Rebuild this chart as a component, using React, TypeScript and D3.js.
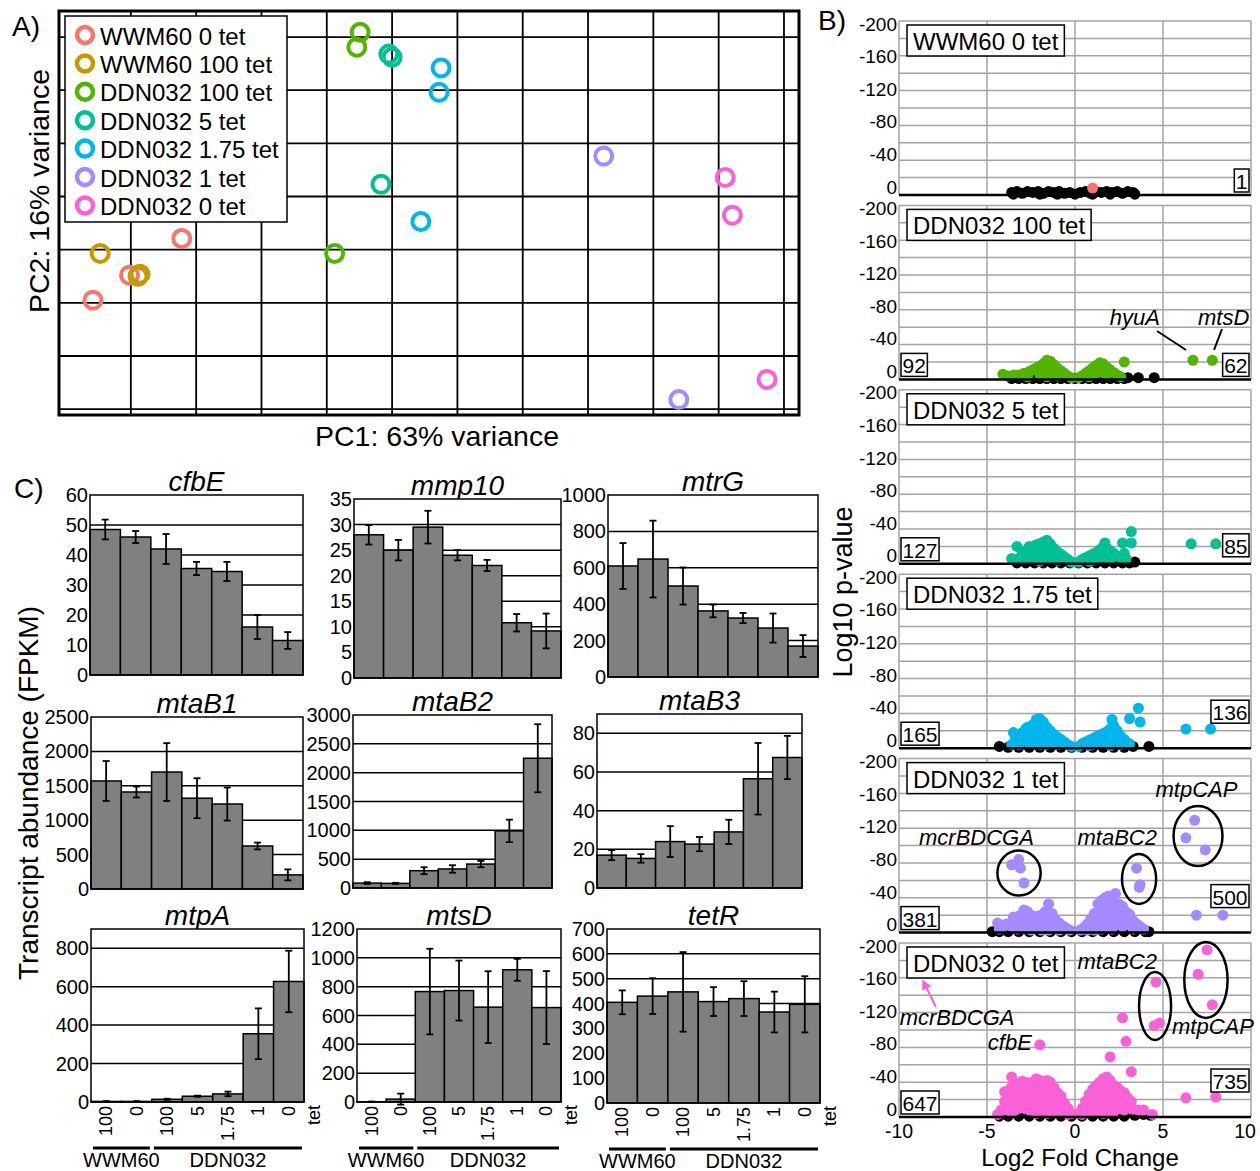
import React, { useLayoutEffect, useRef, useState } from 'react';
import * as d3 from 'd3';

const FONT = '"Liberation Sans", Arial, Helvetica, sans-serif';

/* ---------------- A) PCA ---------------- */
const sampleGroups = ['WWM60 0 tet', 'WWM60 100 tet', 'DDN032 100 tet', 'DDN032 5 tet', 'DDN032 1.75 tet', 'DDN032 1 tet', 'DDN032 0 tet'];
const groupColors = ['#F8766D', '#C49A00', '#53B400', '#00C094', '#00B6EB', '#A58AFF', '#FB61D7'];
// PC1 / PC2 scores of each replicate, one list per group
const pcaWWM60_0: [number, number][] = [[-25.8, -9.5], [-20.2, -4.8], [-12.2, 2.1]];
const pcaWWM60_100: [number, number][] = [[-24.7, -0.7], [-18.6, -4.6], [-18.9, -5.0]];
const pcaDDN_100: [number, number][] = [[15.1, 40.9], [14.6, 38.1], [11.2, -0.7]];
const pcaDDN_5: [number, number][] = [[19.5, 36.8], [20.0, 36.2], [18.3, 12.3]];
const pcaDDN_175: [number, number][] = [[27.5, 34.2], [27.2, 29.6], [24.4, 5.3]];
const pcaDDN_1: [number, number][] = [[52.4, 17.6], [63.9, -28.2]];
const pcaDDN_0: [number, number][] = [[71.0, 13.6], [72.1, 6.5], [77.4, -24.4]];
const pcaScores = [pcaWWM60_0, pcaWWM60_100, pcaDDN_100, pcaDDN_5, pcaDDN_175, pcaDDN_1, pcaDDN_0];
const pc1Grid = [-20, -10, 0, 10, 20, 30, 40, 50, 60, 70, 80];
const pc2Grid = [-30, -20, -10, 0, 10, 20, 30, 40];

/* ---------------- B) Volcano plots ---------------- */
const volcanoTitles = ['WWM60 0 tet', 'DDN032 100 tet', 'DDN032 5 tet', 'DDN032 1.75 tet', 'DDN032 1 tet', 'DDN032 0 tet'];
const volcanoColors = ['#F8766D', '#53B400', '#00C094', '#00B6EB', '#A58AFF', '#FB61D7'];
const downCounts = [null, 92, 127, 165, 381, 647];
const upCounts = [1, 62, 85, 136, 500, 735];
const lfcTicks = [-10, -5, 0, 5, 10];
const pTickLabels = [0, -40, -80, -120, -160, -200];
const pGrid = [-20, -40, -60, -80, -100, -120, -140, -160, -180, -200];

// [log2 fold change, log10 p-value]
const ns0: [number, number][] = [[-3.6, -3], [-3.3, -4], [-3.0, -2], [-2.7, -4], [-2.4, -3], [-2.1, -4], [-1.8, -2], [-1.5, -4], [-1.2, -3], [-0.9, -4], [-0.6, -2], [-0.3, -3], [0, -1], [0.3, -3], [0.6, -4], [0.9, -2], [1.2, -4], [1.5, -3], [1.8, -4], [2.1, -3], [2.4, -4], [2.7, -2], [3.0, -4], [3.3, -3], [3.4, -1], [-3.5, -1], [-2.0, -1], [-1.0, -1], [1.0, -1], [2.0, -1]];
const sig0: [number, number][] = [[1.0, -8]];

const ns1: [number, number][] = [[-3.6, -1], [-3.2, -1], [-2.8, -1], [-2.4, -1], [-2.0, -1], [-1.6, -1], [-1.2, -1], [-0.8, -1], [-0.4, -1], [0, -1], [0.4, -1], [0.8, -1], [1.2, -1], [1.6, -1], [2.0, -1], [2.4, -1], [2.8, -1], [3.0, -2], [3.6, -2], [4.5, -2]];
const sig1: [number, number][] = [[-4.1, -6], [-3.8, -4], [-3.5, -5], [-3.2, -5], [-2.9, -7], [-2.6, -9], [-2.7, -3], [-2.4, -11], [-2.2, -13], [-2.0, -15], [-2.0, -5], [-1.8, -18], [-1.8, -8], [-1.6, -22], [-1.6, -11], [-1.6, -3], [-1.4, -21], [-1.4, -10], [-1.2, -17], [-1.2, -7], [-1.0, -13], [-1.0, -4], [-0.8, -10], [-0.6, -7], [-0.4, -4], [-0.2, -2],
  [0.2, -2], [0.4, -4], [0.6, -7], [0.8, -10], [0.8, -3], [1.0, -13], [1.0, -5], [1.2, -16], [1.2, -7], [1.4, -19], [1.4, -9], [1.6, -18], [1.6, -8], [1.8, -14], [1.8, -5], [2.0, -11], [2.2, -8], [2.4, -5], [2.6, -3], [2.8, -20], [6.7, -22], [7.8, -22]];

const ns2: [number, number][] = [[-3.3, -1], [-2.8, -1], [-2.3, -1], [-1.8, -1], [-1.3, -1], [-0.8, -1], [-0.3, -1], [0.2, -1], [0.7, -1], [1.2, -1], [1.7, -1], [2.2, -1], [2.7, -1], [3.1, -1], [3.4, -2]];
const sig2: [number, number][] = [[-3.6, -6], [-3.3, -20], [-3.2, -6], [-3.0, -12], [-2.8, -15], [-2.8, -5], [-2.6, -20], [-2.6, -9], [-2.4, -18], [-2.4, -7], [-2.2, -22], [-2.2, -11], [-2.0, -23], [-2.0, -12], [-2.0, -3], [-1.8, -25], [-1.8, -14], [-1.6, -27], [-1.6, -16], [-1.6, -5], [-1.4, -23], [-1.4, -12], [-1.2, -18], [-1.2, -8], [-1.0, -14], [-1.0, -4], [-0.8, -11], [-0.6, -8], [-0.4, -5], [-0.2, -2],
  [0.2, -2], [0.4, -5], [0.6, -7], [0.8, -9], [0.8, -3], [1.0, -11], [1.0, -4], [1.2, -13], [1.2, -5], [1.4, -16], [1.4, -7], [1.6, -20], [1.6, -9], [1.7, -24], [1.8, -18], [1.8, -7], [2.0, -15], [2.0, -5], [2.2, -12], [2.4, -9], [2.6, -7], [2.7, -24], [2.8, -12], [2.9, -6], [3.2, -37], [3.2, -24], [6.6, -23], [8.0, -23]];

const ns3: [number, number][] = [[-4.3, -2], [-3.8, -1], [-3.2, -1], [-2.6, -1], [-2.0, -1], [-1.4, -1], [-0.8, -1], [-0.2, -1], [0.4, -1], [1.0, -1], [1.6, -1], [2.2, -1], [2.8, -1], [3.3, -2], [4.2, -2]];
const sig3: [number, number][] = [[-3.6, -4], [-3.5, -18], [-3.4, -9], [-3.2, -13], [-3.2, -4], [-3.0, -18], [-3.0, -8], [-2.8, -22], [-2.8, -12], [-2.7, -24], [-2.6, -16], [-2.6, -5], [-2.4, -27], [-2.4, -17], [-2.4, -7], [-2.2, -33], [-2.2, -22], [-2.2, -11], [-2.0, -34], [-2.0, -24], [-2.0, -13], [-2.0, -4], [-1.8, -30], [-1.8, -19], [-1.8, -9], [-1.6, -24], [-1.6, -14], [-1.6, -4], [-1.4, -20], [-1.4, -10], [-1.2, -16], [-1.2, -6], [-1.0, -13], [-1.0, -4], [-0.8, -10], [-0.6, -7], [-0.4, -4], [-0.2, -2],
  [0.2, -2], [0.4, -5], [0.6, -7], [0.8, -9], [0.8, -3], [1.0, -11], [1.0, -4], [1.2, -13], [1.2, -5], [1.4, -15], [1.4, -6], [1.6, -17], [1.6, -7], [1.8, -19], [1.8, -9], [2.0, -22], [2.0, -12], [2.0, -3], [2.1, -33], [2.2, -26], [2.2, -15], [2.4, -20], [2.4, -9], [2.6, -14], [2.6, -4], [2.8, -10], [3.0, -6], [3.1, -34], [3.6, -46], [3.7, -30], [3.1, -5], [6.3, -22], [7.7, -22]];

const ns4: [number, number][] = [[-4.7, -1], [-4.3, -1], [-3.8, -1], [-3.2, -1], [-2.6, -1], [-2.0, -1], [-1.4, -1], [-0.8, -1], [-0.2, -1], [0.4, -1], [1.0, -1], [1.6, -1], [2.2, -1], [2.8, -1], [3.4, -1], [4.0, -1], [4.2, -1]];
const sig4: [number, number][] = [[-4.4, -11], [-4.3, -4], [-4.1, -7], [-3.9, -10], [-3.7, -8], [-3.5, -18], [-3.5, -6], [-3.3, -14], [-3.3, -4], [-3.1, -20], [-3.1, -9], [-2.9, -26], [-2.9, -15], [-2.9, -5], [-2.7, -24], [-2.7, -12], [-2.5, -20], [-2.5, -10], [-2.5, -3], [-2.3, -18], [-2.3, -8], [-2.1, -19], [-2.1, -9], [-1.9, -20], [-1.9, -10], [-1.9, -3], [-1.7, -24], [-1.7, -13], [-1.5, -33], [-1.5, -21], [-1.5, -10], [-1.5, -3], [-1.3, -22], [-1.3, -12], [-1.1, -15], [-1.1, -6], [-0.9, -11], [-0.9, -3], [-0.7, -8], [-0.5, -5], [-0.3, -3],
  [0.3, -3], [0.5, -6], [0.7, -10], [0.7, -3], [0.9, -16], [0.9, -7], [1.1, -22], [1.1, -11], [1.1, -3], [1.3, -33], [1.3, -22], [1.3, -10], [1.5, -37], [1.5, -26], [1.5, -14], [1.5, -4], [1.7, -40], [1.7, -28], [1.7, -16], [1.7, -6], [1.9, -42], [1.9, -30], [1.9, -18], [1.9, -8], [2.1, -38], [2.1, -26], [2.1, -14], [2.1, -4], [2.3, -45], [2.3, -33], [2.3, -20], [2.3, -9], [2.5, -33], [2.5, -22], [2.5, -11], [2.7, -30], [2.7, -18], [2.7, -7], [2.9, -24], [2.9, -12], [3.1, -21], [3.1, -9], [3.3, -14], [3.3, -4], [3.5, -10], [3.7, -7], [3.9, -4],
  [-3.6, -78], [-3.2, -84], [-3.1, -74], [-2.9, -57], [3.5, -74], [3.7, -55], [3.65, -52], [6.8, -129], [6.3, -109], [7.4, -95], [6.9, -20], [8.4, -20]];

const ns5: [number, number][] = [[-4.3, -1], [-3.8, -1], [-3.2, -1], [-2.6, -1], [-2.0, -1], [-1.4, -1], [-0.8, -1], [-0.2, -1], [0.4, -1], [1.0, -1], [1.6, -1], [2.2, -1], [2.8, -1], [3.4, -2], [3.9, -3], [4.3, -2], [3.6, -6]];
const sig5: [number, number][] = [[-4.4, -3], [-4.2, -8], [-4.0, -29], [-4.0, -18], [-4.0, -8], [-3.8, -30], [-3.8, -20], [-3.8, -10], [-3.6, -46], [-3.6, -35], [-3.6, -25], [-3.6, -15], [-3.6, -5], [-3.4, -38], [-3.4, -28], [-3.4, -18], [-3.4, -8], [-3.2, -30], [-3.2, -20], [-3.2, -10], [-3.0, -41], [-3.0, -31], [-3.0, -21], [-3.0, -11],
  [-2.8, -40], [-2.8, -30], [-2.8, -20], [-2.8, -10], [-2.6, -38], [-2.6, -28], [-2.6, -18], [-2.6, -8], [-2.4, -40], [-2.4, -30], [-2.4, -20], [-2.4, -10], [-2.2, -44], [-2.2, -34], [-2.2, -24], [-2.2, -14], [-2.2, -4], [-2.0, -42], [-2.0, -32], [-2.0, -22], [-2.0, -12], [-1.8, -40], [-1.8, -30], [-1.8, -20], [-1.8, -10],
  [-1.6, -42], [-1.6, -32], [-1.6, -22], [-1.6, -12], [-1.6, -4], [-1.4, -40], [-1.4, -30], [-1.4, -20], [-1.4, -10], [-1.2, -34], [-1.2, -24], [-1.2, -14], [-1.2, -5], [-1.0, -28], [-1.0, -18], [-1.0, -8], [-0.8, -24], [-0.8, -14], [-0.8, -5], [-0.6, -16], [-0.6, -8], [-0.4, -10], [-0.4, -3], [-0.2, -4],
  [0.2, -4], [0.4, -10], [0.4, -3], [0.6, -18], [0.6, -8], [0.8, -26], [0.8, -15], [0.8, -5], [1.0, -32], [1.0, -22], [1.0, -12], [1.2, -36], [1.2, -26], [1.2, -16], [1.2, -6], [1.4, -40], [1.4, -30], [1.4, -20], [1.4, -10], [1.6, -44], [1.6, -34], [1.6, -24], [1.6, -14], [1.6, -4],
  [1.8, -46], [1.8, -36], [1.8, -26], [1.8, -16], [1.8, -6], [2.0, -42], [2.0, -32], [2.0, -22], [2.0, -12], [2.2, -36], [2.2, -26], [2.2, -16], [2.2, -6], [2.4, -34], [2.4, -24], [2.4, -14], [2.6, -30], [2.6, -20], [2.6, -10], [2.8, -28], [2.8, -18], [2.8, -8], [3.0, -22], [3.0, -12], [3.2, -18], [3.3, -9], [3.6, -8], [3.9, -8], [4.4, -3],
  [-2.0, -83], [2.0, -69], [2.7, -114], [2.9, -87], [3.2, -52], [4.6, -155], [4.5, -105], [4.8, -108], [7.5, -192], [7.0, -164], [7.8, -129], [6.3, -22], [8.0, -23]];

const volcanoNs = [ns0, ns1, ns2, ns3, ns4, ns5];
const volcanoSig = [sig0, sig1, sig2, sig3, sig4, sig5];

type Note =
  | { kind: 'text'; lfc: number; p: number; label: string; anchor?: string }
  | { kind: 'line'; from: [number, number]; to: [number, number] }
  | { kind: 'ellipse'; lfc: number; p: number; rl: number; rp: number }
  | { kind: 'arrow'; from: [number, number]; to: [number, number] };

const volcanoNotes: Note[][] = [
  [],
  [
    { kind: 'text', lfc: 3.4, p: -62.5, label: 'hyuA' },
    { kind: 'line', from: [4.66, -55.6], to: [6.31, -33.8] },
    { kind: 'text', lfc: 8.45, p: -62.5, label: 'mtsD' },
    { kind: 'line', from: [8.35, -57.9], to: [7.9, -33.8] },
  ],
  [],
  [],
  [
    { kind: 'text', lfc: -5.6, p: -100.7, label: 'mcrBDCGA' },
    { kind: 'text', lfc: 2.4, p: -100.7, label: 'mtaBC2' },
    { kind: 'text', lfc: 6.9, p: -156, label: 'mtpCAP' },
    { kind: 'ellipse', lfc: -3.18, p: -68.5, rl: 1.23, rp: 25.9 },
    { kind: 'ellipse', lfc: 3.64, p: -61.6, rl: 0.97, rp: 28.7 },
    { kind: 'ellipse', lfc: 6.99, p: -111, rl: 1.39, rp: 34.5 },
  ],
  [
    { kind: 'text', lfc: 2.4, p: -170, label: 'mtaBC2' },
    { kind: 'text', lfc: 7.84, p: -95.4, label: 'mtpCAP' },
    { kind: 'text', lfc: -6.7, p: -105.7, label: 'mcrBDCGA' },
    { kind: 'text', lfc: -2.45, p: -77, label: 'cfbE', anchor: 'end' },
    { kind: 'ellipse', lfc: 4.55, p: -127.6, rl: 0.91, rp: 39 },
    { kind: 'ellipse', lfc: 7.44, p: -157.5, rl: 1.23, rp: 43.7 },
    { kind: 'arrow', from: [-7.9, -126.4], to: [-8.62, -156] },
  ],
];

/* ---------------- C) Transcript abundance ---------------- */
const sampleTet = ['100', '0', '100', '5', '1.75', '1', '0'];
const sampleStrain = ['WWM60', 'WWM60', 'DDN032', 'DDN032', 'DDN032', 'DDN032', 'DDN032'];
const strains = ['WWM60', 'DDN032'];
const geneNames = ['cfbE', 'mmp10', 'mtrG', 'mtaB1', 'mtaB2', 'mtaB3', 'mtpA', 'mtsD', 'tetR'];
const cfbE = [48.5, 46, 42, 35.5, 34.5, 16, 11.5];
const cfbE_sd = [3.3, 2, 5, 2.2, 3.2, 4, 2.8];
const mmp10 = [28, 25, 29.5, 24, 22, 10.8, 9.2];
const mmp10_sd = [1.9, 2, 3.2, 1, 1.1, 1.7, 3.4];
const mtrG = [610, 648, 500, 363, 324, 269, 170];
const mtrG_sd = [126, 211, 102, 35, 28, 80, 60];
const mtaB1 = [1570, 1410, 1700, 1320, 1235, 625, 205];
const mtaB1_sd = [290, 80, 420, 290, 240, 50, 80];
const mtaB2 = [85, 80, 300, 330, 415, 990, 2250];
const mtaB2_sd = [15, 10, 60, 65, 55, 195, 590];
const mtaB3 = [17, 15.3, 24, 22.7, 29, 56.5, 67.5];
const mtaB3_sd = [2.6, 2.2, 8, 3.7, 6.3, 18.5, 11.2];
const mtpA = [3, 3, 14, 30, 42, 355, 627];
const mtpA_sd = [1, 1, 3, 3, 12, 132, 160];
const mtsD = [2, 20, 766, 773, 658, 917, 655];
const mtsD_sd = [1, 38, 297, 208, 249, 76, 253];
const tetR = [405, 430, 447, 408, 420, 366, 397];
const tetR_sd = [48, 72, 160, 58, 70, 82, 113];
const fpkmValues = [cfbE, mmp10, mtrG, mtaB1, mtaB2, mtaB3, mtpA, mtsD, tetR];
const fpkmSd = [cfbE_sd, mmp10_sd, mtrG_sd, mtaB1_sd, mtaB2_sd, mtaB3_sd, mtpA_sd, mtsD_sd, tetR_sd];
const yMaxes = [60, 35, 1000, 2500, 3000, 90, 900, 1200, 700];
const yTicks = [
  [0, 10, 20, 30, 40, 50, 60],
  [0, 5, 10, 15, 20, 25, 30, 35],
  [0, 200, 400, 600, 800, 1000],
  [0, 500, 1000, 1500, 2000, 2500],
  [0, 500, 1000, 1500, 2000, 2500, 3000],
  [0, 20, 40, 60, 80],
  [0, 200, 400, 600, 800],
  [0, 200, 400, 600, 800, 1000, 1200],
  [0, 100, 200, 300, 400, 500, 600, 700],
];

// plot rectangles of the nine bar charts
const barBoxes = [
  { x0: 90, x1: 303, y0: 495, y1: 675 },
  { x0: 354, x1: 561, y0: 499, y1: 678 },
  { x0: 608, x1: 818, y0: 495, y1: 677 },
  { x0: 91, x1: 303, y0: 717, y1: 889 },
  { x0: 353, x1: 552, y0: 715, y1: 888 },
  { x0: 597, x1: 802, y0: 714, y1: 888 },
  { x0: 91, x1: 304, y0: 929, y1: 1102 },
  { x0: 357, x1: 561, y0: 929, y1: 1102 },
  { x0: 607, x1: 820, y0: 929, y1: 1103 },
];

function BoxedText({ x, y, h, text, fontSize, align = 'left', padX = 4 }: any) {
  const ref = useRef<SVGTextElement>(null);
  const [w, setW] = useState(0);
  useLayoutEffect(() => {
    if (ref.current) setW(ref.current.getComputedTextLength());
  }, [text, fontSize]);
  const boxW = w + padX * 2;
  const left = align === 'left' ? x : x - boxW;
  return (
    <g>
      <rect x={left} y={y} width={boxW} height={h} fill="#fff" stroke="#000" strokeWidth={1.5} />
      <text ref={ref} x={left + padX} y={y + h / 2 + 1} dominantBaseline="central" fontSize={fontSize}>{text}</text>
    </g>
  );
}

function PcaPanel() {
  const xA = d3.scaleLinear().domain([-31, 82.3]).range([59, 799]);
  const yA = d3.scaleLinear().domain([-31.1, 44.9]).range([415, 11]);
  const [x0, x1] = xA.range();
  const [y1, y0] = yA.range();
  return (
    <g>
      <text x={12} y={36} fontSize={28}>A)</text>
      <rect x={x0} y={y0} width={x1 - x0} height={y1 - y0} fill="#fff" />
      {pc1Grid.map((v) => (
        <line key={'gx' + v} x1={xA(v)} x2={xA(v)} y1={y0} y2={y1} stroke="#000" strokeWidth={1.8} />
      ))}
      {pc2Grid.map((v) => (
        <line key={'gy' + v} x1={x0} x2={x1} y1={yA(v)} y2={yA(v)} stroke="#000" strokeWidth={1.8} />
      ))}
      <rect x={x0} y={y0} width={x1 - x0} height={y1 - y0} fill="none" stroke="#000" strokeWidth={3} />
      {pcaScores.map((pts, g) =>
        pts.map((p, i) => (
          <circle key={g + '-' + i} cx={xA(p[0])} cy={yA(p[1])} r={8.5} fill="none" stroke={groupColors[g]} strokeWidth={4} />
        ))
      )}
      <rect x={65} y={16} width={222} height={206} fill="#fff" stroke="#000" strokeWidth={1.5} />
      {sampleGroups.map((name, i) => (
        <g key={name}>
          <circle cx={85} cy={35 + i * 28.4} r={8} fill="none" stroke={groupColors[i]} strokeWidth={4.5} />
          <text x={100} y={36 + i * 28.4} dominantBaseline="central" fontSize={24}>{name}</text>
        </g>
      ))}
      <text x={437} y={446} textAnchor="middle" fontSize={28.5}>PC1: 63% variance</text>
      <text transform={`translate(49,191) rotate(-90)`} textAnchor="middle" fontSize={28.5}>PC2: 16% variance</text>
    </g>
  );
}

function VolcanoPanel({ i }: { i: number }) {
  const top = 21 + i * 184.4;
  const base = top + 174;
  const xB = d3.scaleLinear().domain([-10, 10]).range([899, 1251]);
  const yB = d3.scaleLinear().domain([0, -200]).range([base, top]);
  // tick labels sit slightly inside the panel so neighbouring panels don't collide
  const yLab = d3.scaleLinear().domain([0, -200]).range([base - 8, top + 3]);
  const color = volcanoColors[i];
  const gridStroke = '#a3a3a3';
  const last = i === volcanoTitles.length - 1;
  return (
    <g>
      <rect x={xB(-10)} y={top} width={xB(10) - xB(-10)} height={base - top} fill="#fff" />
      {pGrid.map((v) => (
        <line key={'h' + v} x1={xB(-10)} x2={xB(10)} y1={yB(v)} y2={yB(v)} stroke={gridStroke} strokeWidth={1.5} />
      ))}
      {lfcTicks.map((v) => (
        <line key={'v' + v} x1={xB(v)} x2={xB(v)} y1={top} y2={base} stroke={gridStroke} strokeWidth={1.5} />
      ))}
      {pTickLabels.map((v) => (
        <text key={'t' + v} x={897} y={yLab(v)} textAnchor="end" dominantBaseline="central" fontSize={19}>{v}</text>
      ))}
      {volcanoNs[i].map((p, k) => (
        <circle key={'n' + k} cx={xB(p[0])} cy={yB(p[1])} r={5.5} fill="#000" />
      ))}
      {volcanoSig[i].map((p, k) => (
        <circle key={'s' + k} cx={xB(p[0])} cy={yB(p[1])} r={5.5} fill={color} />
      ))}
      <line x1={xB(-10)} x2={xB(10)} y1={base} y2={base} stroke="#000" strokeWidth={2.5} />
      {volcanoNotes[i].map((n, k) => {
        if (n.kind === 'text')
          return (
            <text key={k} x={xB(n.lfc)} y={yB(n.p)} textAnchor={n.anchor || 'middle'} fontStyle="italic" fontSize={22}>{n.label}</text>
          );
        if (n.kind === 'line')
          return <line key={k} x1={xB(n.from[0])} y1={yB(n.from[1])} x2={xB(n.to[0])} y2={yB(n.to[1])} stroke="#000" strokeWidth={2} />;
        if (n.kind === 'ellipse')
          return (
            <ellipse key={k} cx={xB(n.lfc)} cy={yB(n.p)} rx={xB(n.rl) - xB(0)} ry={yB(0) - yB(-n.rp)} fill="none" stroke="#000" strokeWidth={2.5} />
          );
        return (
          <line key={k} x1={xB(n.from[0])} y1={yB(n.from[1])} x2={xB(n.to[0])} y2={yB(n.to[1])} stroke="#FB61D7" strokeWidth={2} markerEnd="url(#pinkArrow)" />
        );
      })}
      <BoxedText x={907} y={top + 4} h={31} text={volcanoTitles[i]} fontSize={24} padX={6} />
      {downCounts[i] !== null && <BoxedText x={901} y={top + 148} h={23} text={String(downCounts[i])} fontSize={21} padX={1.5} />}
      <BoxedText x={1249} align="right" y={top + (i >= 3 ? 126 : i === 2 ? 144 : 148)} h={23} text={String(upCounts[i])} fontSize={21} padX={1.5} />
      {last &&
        lfcTicks.map((v, k) => (
          <text key={'xl' + v} x={k === lfcTicks.length - 1 ? xB(v) - 6 : xB(v)} y={base + 14} textAnchor="middle" dominantBaseline="central" fontSize={19.5}>{v}</text>
        ))}
    </g>
  );
}

function BarChart({ k }: { k: number }) {
  const box = barBoxes[k];
  const values = fpkmValues[k];
  const errs = fpkmSd[k];
  const yMax = yMaxes[k];
  const ticks = yTicks[k];
  const idx = values.map((_, i) => i);
  const x = d3.scaleBand<number>().domain(idx).range([box.x0, box.x1]);
  const y = d3.scaleLinear().domain([0, yMax]).range([box.y1, box.y0]);
  const bw = x.bandwidth();
  const showX = k >= 6;
  const cap = 3.5;
  return (
    <g>
      <text x={(box.x0 + box.x1) / 2} y={box.y0 - 4} textAnchor="middle" fontStyle="italic" fontSize={28}>{geneNames[k]}</text>
      <rect x={box.x0} y={box.y0} width={box.x1 - box.x0} height={box.y1 - box.y0} fill="#fff" />
      {ticks.filter((t) => t > 0 && t < yMax).map((t) => (
        <line key={'g' + t} x1={box.x0} x2={box.x1} y1={y(t)} y2={y(t)} stroke="#000" strokeWidth={1.5} />
      ))}
      {ticks.map((t) => (
        <text key={'l' + t} x={box.x0 - 2} y={y(t)} textAnchor="end" dominantBaseline="central" fontSize={20}>{t}</text>
      ))}
      {values.map((v, i) => (
        <rect key={'b' + i} x={x(i)} y={y(v)} width={bw} height={y(0) - y(v)} fill="#808080" stroke="#000" strokeWidth={1.5} />
      ))}
      {values.map((v, i) => {
        const cx = (x(i) as number) + bw / 2;
        const hi = y(v + errs[i]);
        const lo = y(v - errs[i]);
        return (
          <g key={'e' + i} stroke="#000" strokeWidth={1.8}>
            <line x1={cx} x2={cx} y1={hi} y2={lo} />
            <line x1={cx - cap} x2={cx + cap} y1={hi} y2={hi} />
            <line x1={cx - cap} x2={cx + cap} y1={lo} y2={lo} />
          </g>
        );
      })}
      <rect x={box.x0} y={box.y0} width={box.x1 - box.x0} height={box.y1 - box.y0} fill="none" stroke="#000" strokeWidth={1.5} />
      {showX && (
        <g>
          {sampleTet.map((t, i) => (
            <text key={'x' + i} transform={`translate(${(x(i) as number) + bw / 2},${box.y1 + 4}) rotate(-90)`} textAnchor="end" dominantBaseline="central" fontSize={18}>{t}</text>
          ))}
          <text transform={`translate(${box.x1 + 10},${box.y1 + 3}) rotate(-90)`} textAnchor="end" dominantBaseline="central" fontSize={18}>tet</text>
          {strains.map((s) => {
            const members = idx.filter((i) => sampleStrain[i] === s);
            const a = (x(members[0]) as number) + 2;
            const b = (x(members[members.length - 1]) as number) + bw - 2;
            return (
              <g key={s}>
                <line x1={a} x2={b} y1={box.y1 + 46} y2={box.y1 + 46} stroke="#000" strokeWidth={3} />
                <text x={(a + b) / 2} y={box.y1 + 65} textAnchor="middle" fontSize={20}>{s}</text>
              </g>
            );
          })}
        </g>
      )}
    </g>
  );
}

export default function App() {
  return (
    <svg width={1260} height={1171} style={{ position: 'absolute', left: 0, top: 0, background: '#fff' }} fontFamily={FONT}>
      <defs>
        <marker id="pinkArrow" viewBox="0 0 10 10" refX={8} refY={5} markerWidth={5} markerHeight={5} orient="auto-start-reverse">
          <path d="M0,0 L10,5 L0,10 z" fill="#FB61D7" />
        </marker>
      </defs>
      <rect width={1260} height={1171} fill="#fff" />
      <PcaPanel />
      <text x={818} y={30} fontSize={28}>B)</text>
      {volcanoTitles.map((_, i) => (
        <VolcanoPanel key={i} i={i} />
      ))}
      <text transform="translate(852,592) rotate(-90)" textAnchor="middle" fontSize={27}>Log10 p-value</text>
      <text x={1080} y={1166} textAnchor="middle" fontSize={24}>Log2 Fold Change</text>
      <text x={14} y={498} fontSize={28}>C)</text>
      {geneNames.map((_, k) => (
        <BarChart key={k} k={k} />
      ))}
      <text transform="translate(38,793) rotate(-90)" textAnchor="middle" fontSize={28}>Transcript abundance (FPKM)</text>
    </svg>
  );
}
